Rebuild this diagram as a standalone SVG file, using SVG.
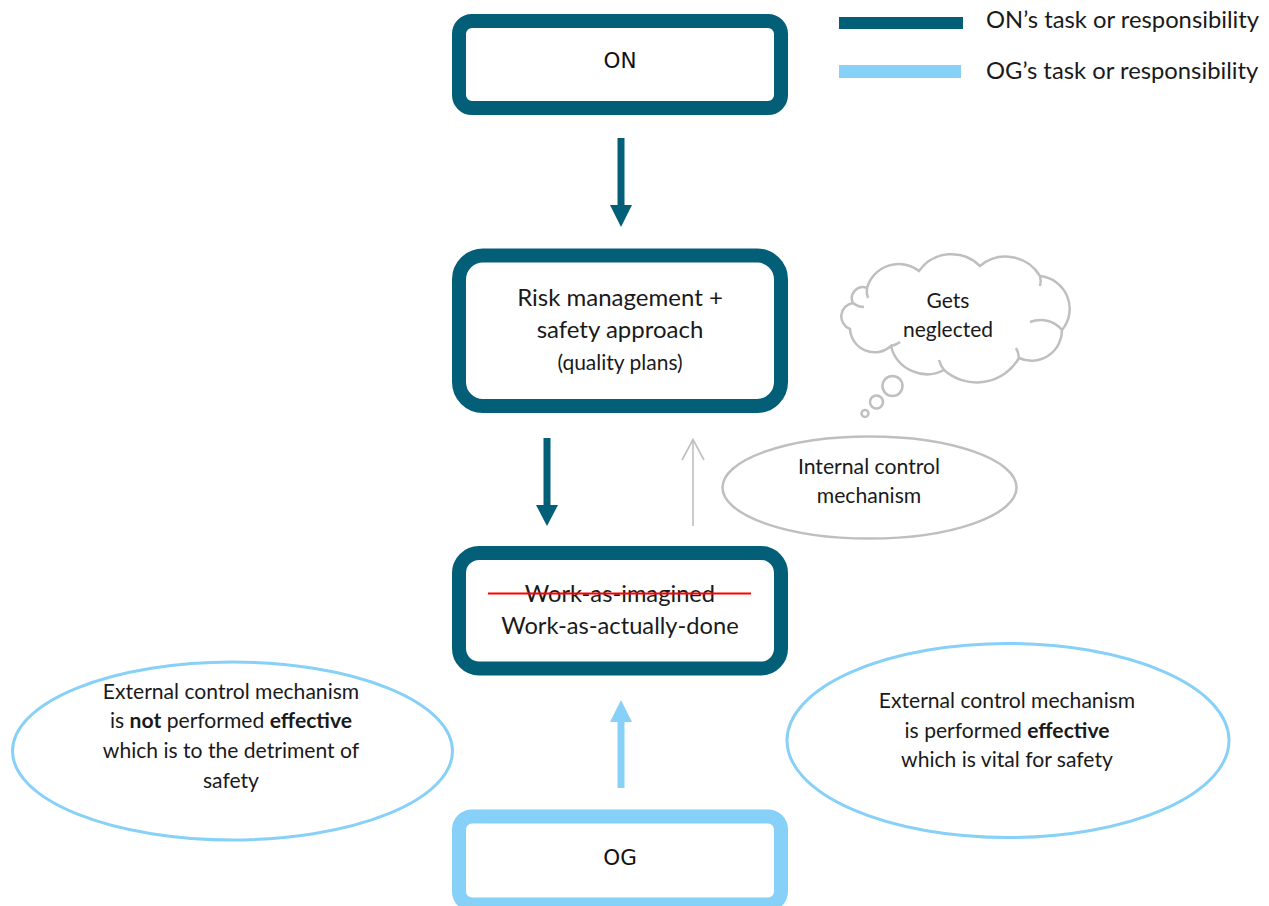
<svg xmlns="http://www.w3.org/2000/svg" width="1269" height="906" viewBox="0 0 1269 906">
  <style>
    .box-on { fill: #ffffff; stroke: #035f78; stroke-width: 14; }
    .box-og { fill: #ffffff; stroke: #87d0f7; stroke-width: 14; }
    .ell-og { fill: #ffffff; stroke: #87d0f7; stroke-width: 3; }
    .gray { fill: #ffffff; stroke: #bfbfbf; stroke-width: 2.5; }
    .t { font-family: Lato, "Liberation Sans", sans-serif; fill: #1a1a1a; text-anchor: middle; }
    .tv { font-family: "DejaVu Sans", Verdana, sans-serif; fill: #111111; text-anchor: middle; font-size: 21.5px; }
    .leg { font-family: Lato, "Liberation Sans", sans-serif; fill: #1a1a1a; font-size: 23.8px; }
    .b { font-weight: bold; }
  </style>

  <!-- legend -->
  <g id="legend">
    <rect x="839" y="17" width="124" height="12" fill="#035f78"/>
    <text class="leg" x="986" y="28">ON’s task or responsibility</text>
    <rect x="839" y="65" width="122" height="13" fill="#87d0f7"/>
    <text class="leg" x="986" y="79">OG’s task or responsibility</text>
  </g>

  <!-- connectors -->
  <g id="connectors">
    <path d="M617.5,138 H624.5 V205 H632 L621,227 L610,205 H617.5 Z" fill="#035f78"/>
    <path d="M543.5,438 H550.5 V505 H558 L547,526 L536,505 H543.5 Z" fill="#035f78"/>
    <path d="M617.5,788 H624.5 V722 H632 L621,700 L610,722 H617.5 Z" fill="#87d0f7"/>
    <g fill="none" stroke="#bfbfbf" stroke-width="1.6">
      <line x1="693" y1="526" x2="693" y2="440"/>
      <polyline points="682,460 693,439.5 704,460"/>
    </g>
  </g>

  <!-- ON -->
  <g id="node-on">
    <rect class="box-on" x="459" y="21" width="322" height="87" rx="13"/>
    <text class="tv" x="620" y="68">ON</text>
  </g>

  <!-- risk management -->
  <g id="node-risk">
    <rect class="box-on" x="459" y="255.5" width="322" height="150.5" rx="24"/>
    <text class="t" x="620" y="306" font-size="24">Risk management +</text>
    <text class="t" x="620" y="338" font-size="24">safety approach</text>
    <text class="t" x="620" y="370" font-size="21">(quality plans)</text>
  </g>

  <!-- work -->
  <g id="node-work">
    <rect class="box-on" x="459" y="553" width="322" height="115.5" rx="20"/>
    <text class="t" x="620" y="602" font-size="23.7">Work-as-imagined</text>
    <line x1="488" y1="593.5" x2="751" y2="593.5" stroke="#ff0000" stroke-width="2"/>
    <text class="t" x="620" y="634" font-size="23.7">Work-as-actually-done</text>
  </g>

  <!-- OG -->
  <g id="node-og">
    <rect class="box-og" x="459" y="816.5" width="322" height="88" rx="13"/>
    <text class="tv" x="620" y="865">OG</text>
  </g>

  <!-- internal control -->
  <g id="node-internal">
    <ellipse class="gray" cx="869.5" cy="487.5" rx="147" ry="51"/>
    <text class="t" x="869" y="474" font-size="21.2">Internal control</text>
    <text class="t" x="869" y="503" font-size="21.2">mechanism</text>
  </g>

  <!-- thought cloud -->
  <g id="node-cloud" fill="#ffffff" stroke="#bfbfbf" stroke-width="2.5">
    <path d="M850,329 A13.5,13.5 0 0 1 853,303 A11,11 0 0 1 867,288 A33,33 0 0 1 919,271 A40,40 0 0 1 980,266 A40,40 0 0 1 1040,276 A33,33 0 0 1 1062,330 A30.5,30.5 0 0 1 1019,358 A49,49 0 0 1 944,370 A37,37 0 0 1 891,346 A24.6,24.6 0 0 1 850,329 Z"/>
    <g fill="none">
      <path d="M853,303 A18,18 0 0 0 864,307"/>
      <path d="M867,288 A18,18 0 0 0 868,298"/>
      <path d="M1030,322 A28,28 0 0 1 1062,330"/>
      <path d="M1040,276 A18,18 0 0 1 1040,286"/>
      <path d="M944,370 A28,28 0 0 1 939,360"/>
      <path d="M891,346 A22,22 0 0 0 900,342"/>
      <path d="M1019,358 A22,22 0 0 0 1016,348"/>
    </g>
    <circle cx="892.5" cy="386" r="10"/>
    <circle cx="876.5" cy="402" r="6.5"/>
    <circle cx="865" cy="413.5" r="3.5"/>
    <text class="t" x="948" y="308" font-size="21" stroke="none" fill="#1a1a1a">Gets</text>
    <text class="t" x="948" y="337" font-size="21" stroke="none" fill="#1a1a1a">neglected</text>
  </g>

  <!-- external control, not effective -->
  <g id="node-ext-not">
    <ellipse class="ell-og" cx="232.5" cy="751" rx="220" ry="89"/>
    <text class="t" x="231" y="699" font-size="21.1">External control mechanism</text>
    <text class="t" x="231" y="728" font-size="21.1">is <tspan class="b">not</tspan> performed <tspan class="b">effective</tspan></text>
    <text class="t" x="231" y="758" font-size="21.1">which is to the detriment of</text>
    <text class="t" x="231" y="788" font-size="21.1">safety</text>
  </g>

  <!-- external control, effective -->
  <g id="node-ext-ok">
    <ellipse class="ell-og" cx="1008" cy="740.5" rx="221" ry="97"/>
    <text class="t" x="1007" y="708" font-size="21.1">External control mechanism</text>
    <text class="t" x="1007" y="738" font-size="21.1">is performed <tspan class="b">effective</tspan></text>
    <text class="t" x="1007" y="767" font-size="21.1">which is vital for safety</text>
  </g>
</svg>
